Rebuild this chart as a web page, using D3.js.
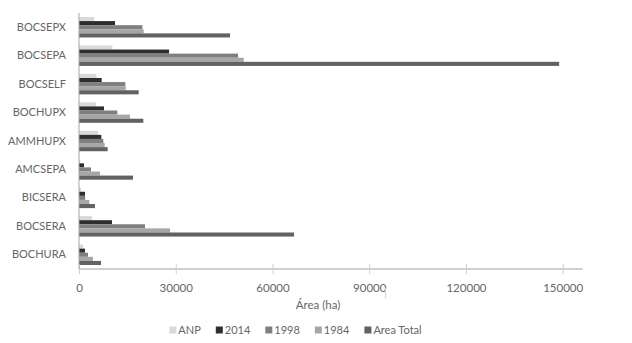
<!DOCTYPE html>
<html>
<head>
<meta charset="utf-8">
<script src="https://cdn.jsdelivr.net/npm/d3@7"></script>
<style>
    body { margin: 0; background: #fff; }
    svg { display: block; font-family: Lato, "Open Sans", sans-serif; }
</style>
</head>
<body>
<svg width="632" height="343"></svg>
<script>
// Datos
const categories = ['BOCSEPX', 'BOCSEPA', 'BOCSELF', 'BOCHUPX', 'AMMHUPX', 'AMCSEPA', 'BICSERA', 'BOCSERA', 'BOCHURA'];
const series = ['ANP', '2014', '1998', '1984', 'Area Total'];
const anp = [4650, 10340, 5380, 5270, 5890, 400, 620, 4030, 1240];
const v2014 = [11170, 27920, 7030, 7760, 6930, 1550, 1860, 10240, 1860];
const v1998 = [19640, 49320, 14370, 11890, 7550, 3720, 1900, 20470, 2790];
const v1984 = [20060, 51090, 14480, 15820, 7960, 6510, 3200, 28230, 4340];
const areaTotal = [46840, 148900, 18510, 19950, 8890, 16750, 4960, 66690, 6820];
const xTicks = [0, 30000, 60000, 90000, 120000, 150000];

const W = 632, H = 343;
const LEFT = 79, RIGHT = 582.7, TOP = 13, BOTTOM = 269;
const TEXT = '#666666';
const COLORS = ['#d9d9d9', '#2e2e2e', '#7f7f7f', '#a6a6a6', '#626262'];

const values = [anp, v2014, v1998, v1984, areaTotal];

const svg = d3.select('svg');
svg.append('rect').attr('width', W).attr('height', H).attr('fill', '#fff');

const x = d3.scaleLinear().domain([0, 156200]).range([LEFT, RIGHT]);
const y = d3.scaleBand().domain(categories).range([TOP, BOTTOM]).paddingInner(0.28).paddingOuter(0.14);
const ys = d3.scaleBand().domain(series).range([0, y.bandwidth()]);
const color = d3.scaleOrdinal().domain(series).range(COLORS);

// Barras
const rows = [];
categories.forEach(function (c, i) {
    series.forEach(function (s, j) {
        rows.push({cat: c, s: s, v: values[j][i]});
    });
});

svg.append('g').selectAll('rect')
    .data(rows)
    .join('rect')
    .attr('x', x(0))
    .attr('y', d => y(d.cat) + ys(d.s))
    .attr('width', d => x(d.v) - x(0))
    .attr('height', ys.bandwidth())
    .attr('fill', d => color(d.s));

// Eje X
const xAxis = svg.append('g')
    .attr('transform', `translate(0,${BOTTOM})`)
    .call(d3.axisBottom(x).tickValues(xTicks).tickFormat(d3.format('d')).tickSize(5).tickPadding(10));
xAxis.select('.domain').attr('stroke', '#a0a0a0').attr('d', `M${LEFT},0H${RIGHT}`);
xAxis.selectAll('.tick line').attr('stroke', '#d0d0d0').attr('y1', -5).attr('y2', 5);
xAxis.selectAll('.tick text')
    .attr('fill', TEXT)
    .style('font-size', '11.5px')
    .style('font-family', 'Lato, "Open Sans", sans-serif');

// Eje Y
const yAxis = svg.append('g')
    .attr('transform', `translate(${LEFT},0)`)
    .call(d3.axisLeft(y).tickSize(0).tickPadding(13));
yAxis.select('.domain').attr('stroke', '#a6a6a6').attr('d', `M0,${TOP}V${BOTTOM}`);
yAxis.selectAll('.tick text')
    .attr('fill', TEXT)
    .style('font-size', '11px')
    .style('font-family', 'Lato, "Open Sans", sans-serif');

// Título del eje
svg.append('text')
    .attr('x', 318)
    .attr('y', 309)
    .attr('text-anchor', 'middle')
    .attr('fill', TEXT)
    .style('font-size', '11.5px')
    .text('Área (ha)');

// marca suelta bajo 90000
svg.append('line')
    .attr('x1', 385.5).attr('x2', 385.5)
    .attr('y1', 288).attr('y2', 298)
    .attr('stroke', '#d0d0d0');

// Leyenda
const legend = svg.append('g');
let lx = 0;
series.forEach(function (s) {
    const g = legend.append('g').attr('transform', `translate(${lx},0)`);
    g.append('rect').attr('x', 0).attr('y', -3.5).attr('width', 7).attr('height', 7).attr('fill', color(s));
    const t = g.append('text')
        .attr('x', 9)
        .attr('y', 4)
        .attr('fill', TEXT)
        .style('font-size', '11px')
        .text(s);
    lx += 9 + t.node().getComputedTextLength() + 15;
});
const legendW = lx - 15;
legend.attr('transform', `translate(${295.5 - legendW / 2},330)`);
</script>
</body>
</html>
